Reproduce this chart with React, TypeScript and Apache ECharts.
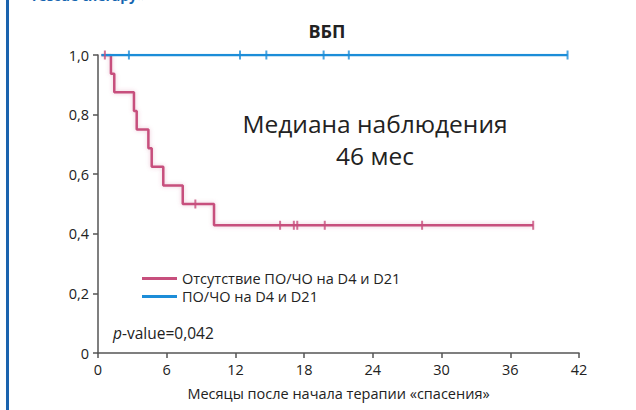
import React, { useEffect, useRef } from "react";
import * as echarts from "echarts";

const xTicks = [0, 6, 12, 18, 24, 30, 36, 42];
const yTicks = [0, 0.2, 0.4, 0.6, 0.8, 1.0];

// Pink curve: event times (months) and survival after each event
const pinkEventTimes = [0.3, 1.13, 1.42, 3.14, 3.38, 4.4, 4.69, 5.7, 7.4, 10.13, 38.0];
const pinkSurvival = [1.0, 0.9375, 0.875, 0.8125, 0.75, 0.6875, 0.625, 0.5625, 0.5, 0.4286, 0.4286];
const pinkCensorTimes = [0.6, 8.5, 15.9, 17.1, 17.4, 19.8, 28.3, 38.0];
const pinkCensorValues = [1.0, 0.5, 0.4286, 0.4286, 0.4286, 0.4286, 0.4286, 0.4286];

// Blue curve
const blueTimes = [0.3, 41.0];
const blueSurvival = [1.0, 1.0];
const blueCensorTimes = [2.7, 12.4, 14.7, 19.7, 21.9, 41.0];
const blueCensorValues = [1.0, 1.0, 1.0, 1.0, 1.0, 1.0];

const seriesNames = ["Отсутствие ПО/ЧО на D4 и D21", "ПО/ЧО на D4 и D21"];
const titleText = "ВБП";
const annotationLines = ["Медиана наблюдения", "46 мес"];
const xAxisName = "Месяцы после начала терапии «спасения»";

const PINK = "#c74f7d";
const BLUE = "#1c8dd8";
const FONT = "'Open Sans', 'Noto Sans', sans-serif";

export default function App() {
  const ref = useRef<HTMLDivElement>(null);
  useEffect(() => {
    document.body.style.margin = "0";
    const chart = echarts.init(ref.current!, null, { renderer: "svg" });
    const pinkData = pinkEventTimes.map((t, i) => [t, pinkSurvival[i]]);
    const blueData = blueTimes.map((t, i) => [t, blueSurvival[i]]);
    const pinkCens = pinkCensorTimes.map((t, i) => [t, pinkCensorValues[i]]);
    const blueCens = blueCensorTimes.map((t, i) => [t, blueCensorValues[i]]);
    chart.setOption({
      animation: false,
      textStyle: { fontFamily: FONT },
      grid: { left: 98, right: 57, top: 55, bottom: 57 },
      xAxis: {
        type: "value",
        min: 0,
        max: 42,
        interval: 6,
        name: xAxisName,
        nameLocation: "middle",
        nameGap: 33,
        nameTextStyle: { fontSize: 14.5, color: "#222", fontFamily: FONT },
        axisLine: { lineStyle: { color: "#555", width: 1.5 } },
        axisTick: { length: 5, lineStyle: { color: "#555", width: 1.5 } },
        axisLabel: {
          fontSize: 14.5,
          color: "#222",
          margin: 9,
          formatter: (v: number) => (xTicks.includes(v) ? String(v) : ""),
        },
        splitLine: { show: false },
      },
      yAxis: {
        type: "value",
        min: 0,
        max: 1,
        interval: 0.2,
        axisLine: { show: true, lineStyle: { color: "#555", width: 1.5 } },
        axisTick: { show: true, length: 5, lineStyle: { color: "#555", width: 1.5 } },
        axisLabel: {
          fontSize: 14.5,
          color: "#222",
          margin: 9,
          formatter: (v: number) => {
            const t = yTicks.find((y) => Math.abs(y - v) < 1e-6);
            if (t === undefined) return "";
            return t === 0 ? "0" : t.toFixed(1).replace(".", ",");
          },
        },
        splitLine: { show: false },
      },
      legend: {
        data: seriesNames,
        orient: "vertical",
        left: 137,
        top: 265,
        padding: 5,
        icon: "rect",
        itemWidth: 35,
        itemHeight: 3,
        itemGap: 1,
        textStyle: { fontSize: 14.5, color: "#222", lineHeight: 17, fontFamily: FONT },
      },
      graphic: [
        { type: "rect", shape: { x: 6, y: 0, width: 3, height: 410 }, style: { fill: "#1a63ae" } },
        {
          type: "text",
          x: 32,
          y: 2,
          style: {
            text: "rescue therapy»",
            font: `bold 14px ${FONT}`,
            fill: "#1565b0",
            textVerticalAlign: "bottom",
          },
        },
        {
          type: "text",
          x: 327,
          y: 31,
          style: {
            text: titleText,
            font: `bold 18px ${FONT}`,
            fill: "#222",
            textAlign: "center",
            textVerticalAlign: "middle",
          },
        },
        {
          type: "text",
          x: 375,
          y: 123,
          style: {
            text: annotationLines[0],
            font: `24.5px ${FONT}`,
            fill: "#222",
            textAlign: "center",
            textVerticalAlign: "middle",
          },
        },
        {
          type: "text",
          x: 375,
          y: 155,
          style: {
            text: annotationLines[1],
            font: `24.5px ${FONT}`,
            fill: "#222",
            textAlign: "center",
            textVerticalAlign: "middle",
          },
        },
        {
          type: "text",
          x: 113,
          y: 333,
          style: {
            text: "{i|p}-value=0,042",
            font: `15.5px ${FONT}`,
            fill: "#222",
            textVerticalAlign: "middle",
            rich: {
              i: { fontStyle: "italic", fontSize: 15.5, fontFamily: FONT, fill: "#222" },
            },
          },
        },
      ],
      series: [
        {
          name: seriesNames[0],
          type: "line",
          step: "end",
          data: pinkData,
          showSymbol: false,
          symbol: "none",
          color: PINK,
          lineStyle: { color: PINK, width: 2.5, shadowColor: "rgba(201,82,127,0.35)", shadowBlur: 4 },
          z: 3,
        },
        {
          name: seriesNames[1],
          type: "line",
          data: blueData,
          showSymbol: false,
          symbol: "none",
          color: BLUE,
          lineStyle: { color: BLUE, width: 2.5 },
          z: 4,
        },
        {
          name: "pinkCensor",
          type: "scatter",
          data: pinkCens,
          symbol: "rect",
          symbolSize: [2, 9],
          itemStyle: { color: PINK },
          z: 5,
        },
        {
          name: "blueCensor",
          type: "scatter",
          data: blueCens,
          symbol: "rect",
          symbolSize: [2, 9],
          itemStyle: { color: BLUE },
          z: 6,
        },
      ],
    });
    return () => chart.dispose();
  }, []);
  return (
    <div
      ref={ref}
      style={{ position: "fixed", left: 0, top: 0, width: 636, height: 410, background: "#fff" }}
    />
  );
}
